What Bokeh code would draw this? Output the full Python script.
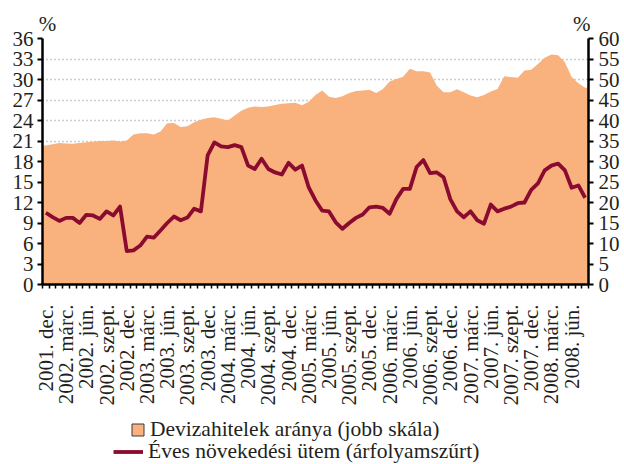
import math
from bokeh.plotting import figure
from bokeh.layouts import column
from bokeh.models import (Range1d, LinearAxis, FixedTicker, Legend, LegendItem,
                          ColumnDataSource)
from bokeh.embed import file_html
from bokeh.resources import INLINE

# ---------------- data ----------------
start_year = 2001
start_month = 12
n_months = 81
month_names = ["jan.", "febr.", "márc.", "ápr.", "máj.", "jún.",
               "júl.", "aug.", "szept.", "okt.", "nov.", "dec."]
label_months = [3, 6, 9, 12]

# Éves növekedési ütem (árfolyamszűrt), % – left scale
growth = [10.5, 9.85, 9.3, 9.75, 9.75, 9.0, 10.2, 10.1, 9.6, 10.7, 10.1, 11.4,
          4.9, 5.0, 5.7, 7.0, 6.85, 7.9, 9.0, 9.95, 9.4, 9.8, 11.1, 10.7,
          18.9, 20.8, 20.2, 20.1, 20.4, 20.1, 17.4, 16.9, 18.4, 16.9, 16.4, 16.1,
          17.8, 16.8, 17.4, 14.2, 12.3, 10.8, 10.7, 9.1, 8.15, 9.0, 9.75, 10.25,
          11.3, 11.4, 11.2, 10.35, 12.5, 14.0, 14.0, 17.2, 18.2, 16.3, 16.4, 15.7,
          12.5, 10.7, 9.85, 10.7, 9.4, 8.9, 11.7, 10.7, 11.1, 11.4, 11.9, 12.0,
          13.85, 14.8, 16.7, 17.4, 17.7, 16.7, 14.15, 14.5, 12.7]

# Devizahitelek aránya (jobb skála), % – right scale
share = [33.9, 34.2, 34.5, 34.4, 34.3, 34.5, 34.7, 34.8, 35.0, 35.0, 35.1, 34.9,
         35.1, 36.6, 36.9, 36.9, 36.6, 37.3, 39.35, 39.4, 38.4, 38.6, 39.6, 40.2,
         40.6, 40.8, 40.4, 40.0, 41.2, 42.4, 43.1, 43.4, 43.3, 43.4, 43.8, 44.1,
         44.2, 44.3, 43.7, 44.6, 46.2, 47.3, 45.8, 45.5, 45.9, 46.7, 47.2, 47.3,
         47.5, 46.7, 47.7, 49.5, 50.1, 50.7, 52.6, 52.0, 52.0, 51.7, 48.5, 46.9,
         46.9, 47.6, 46.9, 46.1, 45.7, 46.2, 47.1, 47.7, 50.8, 50.6, 50.4, 52.2,
         52.4, 53.8, 55.3, 56.1, 55.9, 54.2, 50.6, 49.1, 48.0]

left_ticks = list(range(0, 37, 3))
right_ticks = list(range(0, 61, 5))
unit_text = "%"
legend_area = "Devizahitelek aránya (jobb skála)"
legend_line = "Éves növekedési ütem (árfolyamszűrt)"

# ---------------- derived ----------------
idx = list(range(n_months))
labels = {}
for i in idx:
    m0 = start_month - 1 + i
    y = start_year + m0 // 12
    m = m0 % 12 + 1
    if m in label_months:
        labels[i] = f"{y}. {month_names[m - 1]}"

xmin, xmax = -0.5, n_months - 0.5
area_x = [xmin] + idx + [xmax]
area_y = [share[0]] + share + [share[-1]]

ORANGE = "#F9B27D"
RED = "#8A0A30"
TXT = "#231F20"
FONT = "Liberation Serif"
FS = "21px"
FS_LEG = "21.5px"

p = figure(width=624, height=412, output_backend="svg", toolbar_location=None,
           x_range=Range1d(xmin, xmax), y_range=Range1d(0, 36),
           min_border_left=42, min_border_right=36, min_border_top=38,
           min_border_bottom=128)
p.outline_line_color = None
p.extra_y_ranges = {"right": Range1d(0, 60)}

# grid
p.xgrid.visible = False
p.ygrid.ticker = FixedTicker(ticks=left_ticks)
p.ygrid.grid_line_color = "#9a9a9a"
p.ygrid.grid_line_dash = "1 3"
p.ygrid.grid_line_width = 1.5

# area (right scale)
src_a = ColumnDataSource(dict(x=area_x, y=area_y))
p.varea(x="x", y1=0, y2="y", source=src_a, fill_color=ORANGE,
        y_range_name="right")

# line (left scale)
src_l = ColumnDataSource(dict(x=idx, y=growth))
p.line(x="x", y="y", source=src_l, line_color=RED, line_width=3.8,
       line_join="round")


def style_axis(ax):
    ax.axis_line_color = "black"
    ax.axis_line_width = 2.5
    ax.major_tick_line_color = "black"
    ax.major_tick_line_width = 2
    ax.major_tick_in = 0
    ax.major_tick_out = 5
    ax.minor_tick_line_color = None
    ax.major_label_text_font = FONT
    ax.major_label_text_font_size = FS
    ax.major_label_text_color = TXT


yl = p.yaxis[0]
yl.ticker = FixedTicker(ticks=left_ticks)
style_axis(yl)
yl.major_label_standoff = 4

yr = LinearAxis(y_range_name="right", ticker=FixedTicker(ticks=right_ticks))
style_axis(yr)
yr.major_label_standoff = 5
p.add_layout(yr, "right")

xa = p.xaxis[0]
style_axis(xa)
xa.ticker = FixedTicker(ticks=sorted(labels.keys()),
                        minor_ticks=[i - 0.5 for i in idx] + [xmax])
xa.major_tick_line_color = None
xa.major_tick_out = 5
xa.minor_tick_line_color = "black"
xa.minor_tick_line_width = 1.5
xa.minor_tick_in = 0
xa.minor_tick_out = 4
xa.major_label_overrides = labels
xa.major_label_orientation = math.pi / 2
xa.major_label_standoff = 15

# "%" unit labels above both value axes
unit_pos = [0.25, 79.5]
ua = LinearAxis(ticker=FixedTicker(ticks=unit_pos),
                major_label_overrides={v: unit_text for v in unit_pos})
style_axis(ua)
ua.axis_line_color = None
ua.major_tick_line_color = None
ua.major_tick_out = 0
ua.major_label_standoff = 3
p.add_layout(ua, "above")

# ---------------- legend strip ----------------
p2 = figure(width=624, height=52, output_backend="svg", toolbar_location=None,
            x_range=Range1d(0, 1), y_range=Range1d(0, 1),
            x_axis_type=None, y_axis_type=None,
            min_border_left=0, min_border_right=0, min_border_top=0,
            min_border_bottom=0)
p2.outline_line_color = None
nan = float("nan")
sw = p2.quad(left=[nan], right=[nan], top=[nan], bottom=[nan], fill_color=ORANGE,
             line_color="#3a3a3a", line_width=1)
ln = p2.line(x=[nan, nan], y=[nan, nan], line_color=RED, line_width=3.8)


def mk_legend(item, loc, gw, gh):
    return Legend(items=[item], location=loc, orientation="vertical",
                  glyph_width=gw, glyph_height=gh, label_standoff=5,
                  label_text_font=FONT, label_text_font_size=FS_LEG,
                  label_text_color=TXT, padding=0, margin=0, spacing=0,
                  border_line_color=None, background_fill_alpha=0,
                  label_height=20)


# the legend strip's frame is aligned with the chart frame (x = 42 px)
p2.add_layout(mk_legend(LegendItem(label=legend_area, renderers=[sw]),
                        (88, 22), 15, 15), "center")
p2.add_layout(mk_legend(LegendItem(label=legend_line, renderers=[ln]),
                        (71, 0), 30, 15), "center")

open("out.html", "w").write(file_html(column(p, p2, spacing=0), INLINE))
